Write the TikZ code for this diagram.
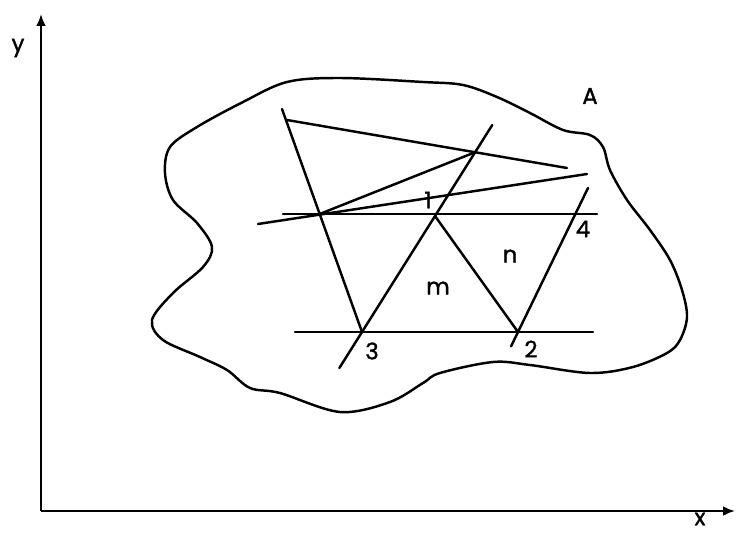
\documentclass[tikz,border=0pt]{standalone}
\usepackage{fontspec}
\newfontfamily\lblfont[FakeBold=1.2]{Poppins}
\usetikzlibrary{arrows.meta,calc}
\tikzset{
  ln/.style={line width=1.4pt,line cap=round},
  ax/.style={line width=1.4pt,-{Latex[length=2.4mm,width=2mm]}},
  lbl/.style={font=\lblfont\fontsize{13}{13}\selectfont,inner sep=0pt}
}
\begin{document}
\begin{tikzpicture}[x=0.02cm,y=0.02cm]
\useasboundingbox (0,0) rectangle (736,532);
\coordinate (O) at (41,21);
\coordinate (Xe) at (735,21);
\coordinate (Ye) at (41,518);
\draw[ax] (O)--(Xe);
\draw[ax] (O)--(Ye);
\node[lbl] (xl) at (700,13) {x};
\node[lbl] (yl) at (18,484) {y};
\draw[ln] plot[smooth cycle,tension=0.55] coordinates {
  (287,450) (340,454) (423,450) (463,447) (497,435) (530,419) (563,402)
  (590,397) (603,385) (610,362) (627,332) (650,302) (670,272) (682,242)
  (687,215) (680,192) (667,179) (633,165) (590,159) (530,167) (493,170)
  (440,159) (423,149) (390,130) (340,120) (280,139) (250,144) (227,162)
  (200,175) (163,192) (152,212) (173,239) (203,265) (212,285) (197,309)
  (173,332) (165,359) (170,385) (197,405) (243,430)};
\coordinate (P1) at (435,316);
\coordinate (P2) at (518,200);
\coordinate (P3) at (362,200);
\coordinate (T1) at (282,423);
\coordinate (T3) at ($(P3)!1.784!(P1)$);
\coordinate (B3) at ($(P3)!-0.31!(P1)$);
\coordinate (T8) at (588,344);
\coordinate (B8) at ($(P2)!-0.1!(T8)$);
\coordinate (H1a) at (283,318);
\coordinate (H1b) at (597,318);
\coordinate (H2a) at (295,200);
\coordinate (H2b) at (593,200);
\coordinate (S2a) at (287,412);
\coordinate (S2b) at (567,364);
\coordinate (S5a) at (258,308);
\coordinate (S5b) at (587,358);
\coordinate (Q) at (intersection of T1--P3 and H1a--H1b);
\coordinate (R) at (intersection of S2a--S2b and P3--T3);
\draw[ln] (T1)--(P3);
\draw[ln] (S2a)--(S2b);
\draw[ln] (T3)--(B3);
\draw[ln] (Q)--(R);
\draw[ln] (S5a)--(S5b);
\draw[ln] (H1a)--(H1b);
\draw[ln] (P1)--(P2);
\draw[ln] (T8)--(B8);
\draw[ln] (H2a)--(H2b);
\node[lbl] (n1) at (428,332) {1};
\node[lbl] (n4) at (583,303) {4};
\node[lbl] (nn) at (510,276) {n};
\node[lbl] (nm) at (438,244) {m};
\node[lbl] (n3) at (372,181) {3};
\node[lbl] (n2) at (531,183) {2};
\node[lbl] (nA) at (590,436) {A};
\end{tikzpicture}
\end{document}
